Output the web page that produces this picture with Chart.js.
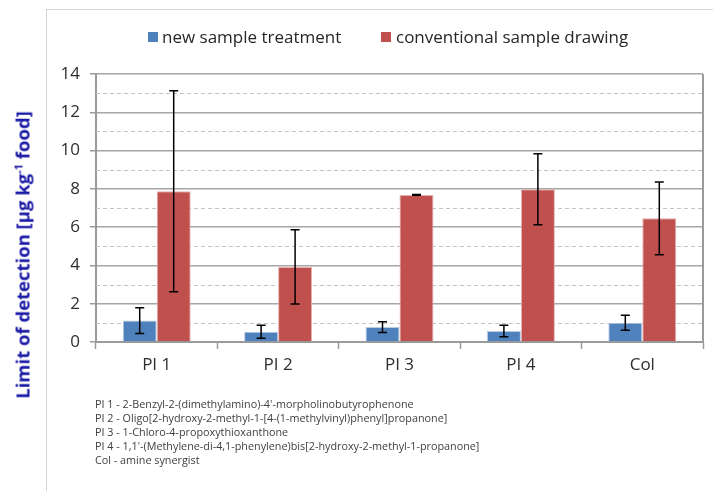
<!DOCTYPE html>
<html>
<head>
<meta charset="utf-8">
<script src="https://cdn.jsdelivr.net/npm/chart.js"></script>
<style>
    body { margin: 0; background: #fff; }
    #wrap { position: relative; width: 713px; height: 491px; overflow: hidden; font-family: "Open Sans", sans-serif; }
    #frame { position: absolute; left: 46px; top: 9px; right: -2px; bottom: -2px; border-left: 1px solid #d4d4d4; border-top: 1px solid #d4d4d4; }
    canvas { position: absolute; left: 0; top: 0; }
    .lg { position: absolute; top: 26px; font-size: 17px; color: #262626; line-height: 22px; white-space: nowrap; }
    .box { position: absolute; top: 32px; width: 10px; height: 10px; }
    #ytitle { position: absolute; left: 22px; top: 255px; transform: translate(-50%, -50%) rotate(-90deg); font-weight: bold; font-size: 18.5px; color: #1a1aa6; white-space: nowrap; }
    #ytitle sup { font-size: 0.6em; }
    #notes { position: absolute; left: 95px; top: 397px; font-size: 10.8px; line-height: 13.9px; color: #404040; white-space: nowrap; }
</style>
</head>
<body>
<div id="wrap">
    <div id="frame"></div>
    <canvas id="lodChart" width="713" height="491"></canvas>
    <div class="box" style="left:148px;background:#4f81bd"></div>
    <div class="lg" style="left:162px">new sample treatment</div>
    <div class="box" style="left:381px;background:#c0504d"></div>
    <div class="lg" style="left:396px">conventional sample drawing</div>
    <div id="ytitle">Limit of detection [µg kg<sup>-1</sup> food]</div>
    <div id="notes">
        PI 1 - 2-Benzyl-2-(dimethylamino)-4'-morpholinobutyrophenone<br>
        PI 2 - Oligo[2-hydroxy-2-methyl-1-[4-(1-methylvinyl)phenyl]propanone]<br>
        PI 3 - 1-Chloro-4-propoxythioxanthone<br>
        PI 4 - 1,1'-(Methylene-di-4,1-phenylene)bis[2-hydroxy-2-methyl-1-propanone]<br>
        Col - amine synergist
    </div>
</div>
<script>
const categories = ["PI 1", "PI 2", "PI 3", "PI 4", "Col"];
const newTreatment = [1.12, 0.54, 0.78, 0.57, 1.01];
const newTreatmentErr = [0.67, 0.34, 0.28, 0.30, 0.39];
const conventional = [7.87, 3.92, 7.68, 7.98, 6.46];
const conventionalErr = [5.25, 1.94, 0.02, 1.86, 1.90];
const yTicks = [0, 2, 4, 6, 8, 10, 12, 14];

const errors = [newTreatmentErr, conventionalErr];

// dashed minor lines, right border and error bars
const extras = {
    id: "extras",
    beforeDatasetsDraw(chart) {
        const { ctx, chartArea, scales } = chart;
        ctx.save();
        ctx.strokeStyle = "#c4c4c4";
        ctx.lineWidth = 1;
        ctx.setLineDash([4, 3]);
        for (let v = 1; v < 14; v += 2) {
            const y = Math.round(scales.y.getPixelForValue(v)) + 0.5;
            ctx.beginPath();
            ctx.moveTo(chartArea.left, y);
            ctx.lineTo(chartArea.right, y);
            ctx.stroke();
        }
        ctx.setLineDash([]);
        ctx.strokeStyle = "#9a9a9a";
        ctx.lineWidth = 2;
        ctx.beginPath();
        ctx.moveTo(chartArea.right, chartArea.top);
        ctx.lineTo(chartArea.right, chartArea.bottom);
        ctx.stroke();
        ctx.restore();
    },
    afterDatasetsDraw(chart) {
        const { ctx, scales } = chart;
        ctx.save();
        ctx.strokeStyle = "#000";
        ctx.lineWidth = 1.5;
        chart.data.datasets.forEach((ds, di) => {
            const meta = chart.getDatasetMeta(di);
            meta.data.forEach((bar, i) => {
                const v = ds.data[i];
                const e = errors[di][i];
                const x = bar.x;
                const yHi = scales.y.getPixelForValue(v + e);
                const yLo = scales.y.getPixelForValue(v - e);
                ctx.beginPath();
                ctx.moveTo(x, yHi); ctx.lineTo(x, yLo);
                ctx.moveTo(x - 4.5, yHi); ctx.lineTo(x + 4.5, yHi);
                ctx.moveTo(x - 4.5, yLo); ctx.lineTo(x + 4.5, yLo);
                ctx.stroke();
            });
        });
        ctx.restore();
    }
};

new Chart(document.getElementById("lodChart"), {
    type: "bar",
    data: {
        labels: categories,
        datasets: [{
            label: "new sample treatment",
            data: newTreatment,
            backgroundColor: "#4f81bd",
            borderColor: "#b8cce4",
            borderWidth: 1,
            categoryPercentage: 0.56,
            barPercentage: 1
        }, {
            label: "conventional sample drawing",
            data: conventional,
            backgroundColor: "#c0504d",
            borderColor: "#e6b0ae",
            borderWidth: 1,
            categoryPercentage: 0.56,
            barPercentage: 1
        }]
    },
    options: {
        responsive: false,
        animation: false,
        layout: { padding: { left: 46, right: 10, top: 74, bottom: 109 } },
        plugins: {
            legend: { display: false },
            tooltip: { enabled: false }
        },
        scales: {
            x: {
                grid: {
                    offset: true,
                    drawOnChartArea: false,
                    tickLength: 7,
                    tickColor: "#9a9a9a",
                    tickWidth: 1.5
                },
                border: { color: "#9a9a9a", width: 2 },
                ticks: { color: "#2e2e2e", font: { family: "Open Sans", size: 17 }, padding: 6 },
                afterFit(scale) { scale.height = 40; }
            },
            y: {
                min: 0,
                max: 14,
                afterBuildTicks(scale) { scale.ticks = yTicks.map(v => ({ value: v })); },
                grid: {
                    color: "#a6a6a6",
                    lineWidth: 1.5,
                    tickLength: 6,
                    tickColor: "#9a9a9a"
                },
                border: { color: "#9a9a9a", width: 2 },
                ticks: { color: "#2e2e2e", font: { family: "Open Sans", size: 17 }, padding: 10 },
                afterFit(scale) { scale.width = 50; }
            }
        }
    },
    plugins: [extras]
});
</script>
</body>
</html>
